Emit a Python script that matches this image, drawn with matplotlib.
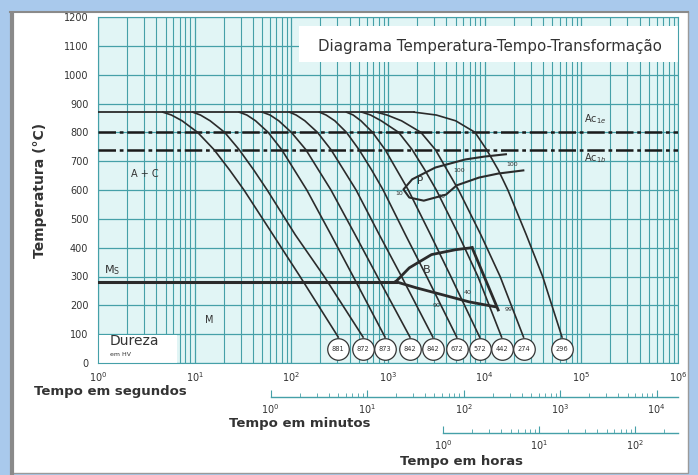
import numpy as np
import matplotlib
matplotlib.use('Agg')
import matplotlib.pyplot as plt
from matplotlib.patches import Rectangle
from matplotlib.lines import Line2D
from matplotlib.ticker import LogLocator, NullFormatter, FixedLocator

# ---------------- data ----------------
temp_ticks = [0, 100, 200, 300, 400, 500, 600, 700, 800, 900, 1000, 1100, 1200]
curve_T = [870, 860, 840, 800, 740, 670, 600, 445, 300, 90]

c1_logt = [0.67, 0.76, 0.87, 1.03, 1.20, 1.36, 1.51, 1.81, 2.09, 2.485]
c2_logt = [0.98, 1.06, 1.16, 1.31, 1.46, 1.61, 1.75, 2.04, 2.34, 2.742]
c3_logt = [1.46, 1.54, 1.63, 1.76, 1.90, 2.03, 2.16, 2.41, 2.64, 2.969]
c4_logt = [1.70, 1.78, 1.87, 2.00, 2.15, 2.28, 2.41, 2.66, 2.89, 3.227]
c5_logt = [1.98, 2.05, 2.14, 2.27, 2.41, 2.54, 2.67, 2.91, 3.14, 3.464]
c6_logt = [2.29, 2.36, 2.45, 2.57, 2.70, 2.83, 2.95, 3.18, 3.40, 3.711]
c7_logt = [2.57, 2.64, 2.72, 2.84, 2.97, 3.09, 3.21, 3.44, 3.65, 3.948]
c8_logt = [2.73, 2.82, 2.93, 3.11, 3.25, 3.38, 3.50, 3.73, 3.93, 4.175]
c9_logt = [2.88, 2.99, 3.14, 3.34, 3.49, 3.61, 3.73, 3.96, 4.16, 4.402]
c10_logt = [3.27, 3.50, 3.70, 3.90, 4.02, 4.14, 4.24, 4.43, 4.60, 4.80]
cooling_curves = [c1_logt, c2_logt, c3_logt, c4_logt, c5_logt,
                  c6_logt, c7_logt, c8_logt, c9_logt, c10_logt]

hardness = ["881", "872", "873", "842", "842", "672", "572", "442", "274", "296"]
circle_logt = [2.485, 2.742, 2.969, 3.227, 3.464, 3.711, 3.948, 4.175, 4.402, 4.80]
circle_T = 49

austenite_T = 870
austenite_end_logt = 3.27
Ac1e_T = 800
Ac1b_T = 737
Ms_T = 282
Ms_end_logt = 3.08

pearlite_logt = [4.22, 4.00, 3.80, 3.49, 3.25, 3.16, 3.22, 3.37, 3.60, 3.71, 3.94, 4.14, 4.40]
pearlite_T = [724, 716, 706, 678, 637, 602, 574, 563, 584, 616, 643, 657, 668]

bainite_up_logt = [3.08, 3.22, 3.45, 3.70, 3.87]
bainite_up_T = [282, 330, 376, 393, 400]
bainite_end_logt = [3.87, 4.14]
bainite_end_T = [400, 184]
bainite_low_logt = [3.08, 3.29, 3.56, 3.84, 4.11]
bainite_low_T = [282, 261, 237, 212, 195]

W, H = 698, 475
def fx(x):
    return x / W
def fy(y):
    return 1 - y / H

LINE = '#2b2b2b'
GRID = '#45a0a8'
TXT = '#333333'
BLUE = '#a9c9ec'

fig = plt.figure(figsize=(W / 100, H / 100), dpi=100)
fig.patch.set_facecolor(BLUE)
fig.patches.append(Rectangle((fx(12), fy(473)), fx(688) - fx(12), fy(11) - fy(473),
                             transform=fig.transFigure, facecolor='white',
                             edgecolor='#9a9a9a', lw=1.0, zorder=-5))
fig.lines.append(Line2D([fx(12), fx(12)], [fy(473), fy(11)], transform=fig.transFigure,
                        color='#8a8a8a', lw=3, zorder=-4))
# top band drawn over the plot (clips the top of the chart as in the picture)
fig.patches.append(Rectangle((0, fy(12)), 1, 1 - fy(12), transform=fig.transFigure,
                             facecolor=BLUE, edgecolor='none', zorder=10))
fig.lines.append(Line2D([fx(10), fx(688)], [fy(12), fy(12)], transform=fig.transFigure,
                        color='#8a8a8a', lw=1.5, zorder=11))

ax = fig.add_axes([fx(98), fy(363), fx(678) - fx(98), fy(17) - fy(363)])
ax.set_xscale('log')
ax.set_xlim(1, 1e6)
ax.set_ylim(0, 1200)
ax.set_facecolor('#e1f5f5')
ax.set_axisbelow(True)
ax.xaxis.set_minor_locator(LogLocator(base=10, subs=range(2, 10), numticks=20))
ax.xaxis.set_minor_formatter(NullFormatter())
ax.set_yticks(temp_ticks)
ax.grid(which='major', axis='both', color=GRID, lw=0.9)
ax.grid(which='minor', axis='x', color=GRID, lw=0.8)
ax.tick_params(which='both', length=0, labelsize=7, colors=TXT)
ax.tick_params(axis='x', pad=5)
ax.tick_params(axis='y', pad=7)
for s in ax.spines.values():
    s.set_color(GRID)

# white boxes
ax.fill_between([10 ** 2.08, 1e6], 1045, 1170, color='white', zorder=1, lw=0)
ax.fill_between([1, 10 ** 0.82], 0, 97, color='white', zorder=1, lw=0)

# horizontal lines
ax.plot([1, 10 ** austenite_end_logt], [austenite_T] * 2, color=LINE, lw=1.3, zorder=3)
ax.plot([1, 1e6], [Ac1e_T] * 2, color='#1a1a1a', lw=1.8, ls=(0, (7, 1.5, 1.5, 1.5)), zorder=3)
ax.plot([1, 1e6], [Ac1b_T] * 2, color='#1a1a1a', lw=1.8, ls=(0, (7, 1.5, 1.5, 1.5)), zorder=3)
ax.plot([1, 10 ** Ms_end_logt], [Ms_T] * 2, color=LINE, lw=2.2, zorder=3)

# cooling curves
for lt in cooling_curves:
    ax.plot(10 ** np.array(lt), curve_T, color=LINE, lw=1.2, zorder=3,
            solid_joinstyle='round')

# pearlite
ax.plot(10 ** np.array(pearlite_logt), pearlite_T, color=LINE, lw=1.5, zorder=3)
# bainite
ax.plot(10 ** np.array(bainite_up_logt), bainite_up_T, color=LINE, lw=2.0, zorder=3)
ax.plot(10 ** np.array(bainite_end_logt), bainite_end_T, color=LINE, lw=2.0, zorder=3)
ax.plot(10 ** np.array(bainite_low_logt), bainite_low_T, color=LINE, lw=2.0, zorder=3)

# hardness circles
ax.plot(10 ** np.array(circle_logt), [circle_T] * len(circle_logt), 'o', ms=15.5,
        mfc='white', mec='#333333', mew=0.9, zorder=4)
for lt, h in zip(circle_logt, hardness):
    ax.text(10 ** lt, circle_T, h, fontsize=4.8, ha='center', va='center', color=TXT, zorder=5)

# region labels
ax.text(10 ** 0.48, 655, 'A + C', fontsize=7, color=TXT, ha='center', va='center', zorder=5)
ax.text(10 ** 1.15, 150, 'M', fontsize=7, color=TXT, ha='center', va='center', zorder=5)
ax.text(10 ** 0.06, 322, r'M$_\mathrm{S}$', fontsize=8, color=TXT, ha='left', va='center', zorder=5)
ax.text(10 ** 3.33, 630, 'P', fontsize=7.5, color=TXT, ha='center', va='center', zorder=5)
ax.text(10 ** 3.12, 588, '10', fontsize=4.5, color=TXT, ha='center', va='center', zorder=5)
ax.text(10 ** 3.55, 576, '30', fontsize=4.5, color=TXT, ha='center', va='center', zorder=5)
ax.text(10 ** 3.74, 666, '100', fontsize=4.5, color=TXT, ha='center', va='center', zorder=5)
ax.text(10 ** 4.28, 690, '100', fontsize=4.5, color=TXT, ha='center', va='center', zorder=5)
ax.text(10 ** 3.40, 322, 'B', fontsize=8, color=TXT, ha='center', va='center', zorder=5)
ax.text(10 ** 3.82, 245, '40', fontsize=4.5, color=TXT, ha='center', va='center', zorder=5)
ax.text(10 ** 3.50, 200, '90', fontsize=4.5, color=TXT, ha='center', va='center', zorder=5)
ax.text(10 ** 4.25, 185, '99', fontsize=4.5, color=TXT, ha='center', va='center', zorder=5)
ax.text(10 ** 5.03, 846, r'Ac$_{1e}$', fontsize=7, color=TXT, ha='left', va='center', zorder=5)
ax.text(10 ** 5.03, 710, r'Ac$_{1b}$', fontsize=7, color=TXT, ha='left', va='center', zorder=5)
ax.text(10 ** 0.12, 78, 'Dureza', fontsize=10, color=TXT, ha='left', va='center', zorder=5)
ax.text(10 ** 0.12, 28, 'em HV', fontsize=4.5, color=TXT, ha='left', va='center', zorder=5)

# title and axis names
fig.text(fx(318), fy(46), 'Diagrama Temperatura-Tempo-Transformação', fontsize=10.8,
         color=TXT, ha='left', va='center')
fig.text(fx(40), fy(190), 'Temperatura (°C)', rotation=90, fontsize=10, fontweight='bold',
         color=TXT, ha='center', va='center')
fig.text(fx(110), fy(392), 'Tempo em segundos', fontsize=9.5, fontweight='bold',
         color=TXT, ha='center', va='center')
fig.text(fx(300), fy(424), 'Tempo em minutos', fontsize=9.5, fontweight='bold',
         color=TXT, ha='center', va='center')
fig.text(fx(462), fy(461), 'Tempo em horas', fontsize=9.5, fontweight='bold',
         color=TXT, ha='center', va='center')

# secondary scales
def scale_axis(left_px, y_px, xmax, majors):
    a = fig.add_axes([fx(left_px), fy(y_px), fx(678) - fx(left_px), 0.0001])
    a.set_facecolor('none')
    a.set_xscale('log')
    a.set_xlim(1, xmax)
    a.set_yticks([])
    for k in ('left', 'right', 'top'):
        a.spines[k].set_visible(False)
    a.spines['bottom'].set_color(GRID)
    a.spines['bottom'].set_linewidth(1.0)
    a.xaxis.set_major_locator(FixedLocator(majors))
    a.xaxis.set_minor_locator(LogLocator(base=10, subs=range(2, 10), numticks=20))
    a.xaxis.set_minor_formatter(NullFormatter())
    a.tick_params(which='major', direction='in', length=5, color=GRID, labelsize=7,
                  labelcolor=TXT, pad=4)
    a.tick_params(which='minor', direction='in', length=3, color=GRID)
    return a

scale_axis(270.5, 397, 1e6 / 60, [1, 10, 100, 1000, 10000])
scale_axis(443.4, 433, 1e6 / 3600, [1, 10, 100])

fig.savefig('out.png', dpi=100, facecolor=fig.get_facecolor())
